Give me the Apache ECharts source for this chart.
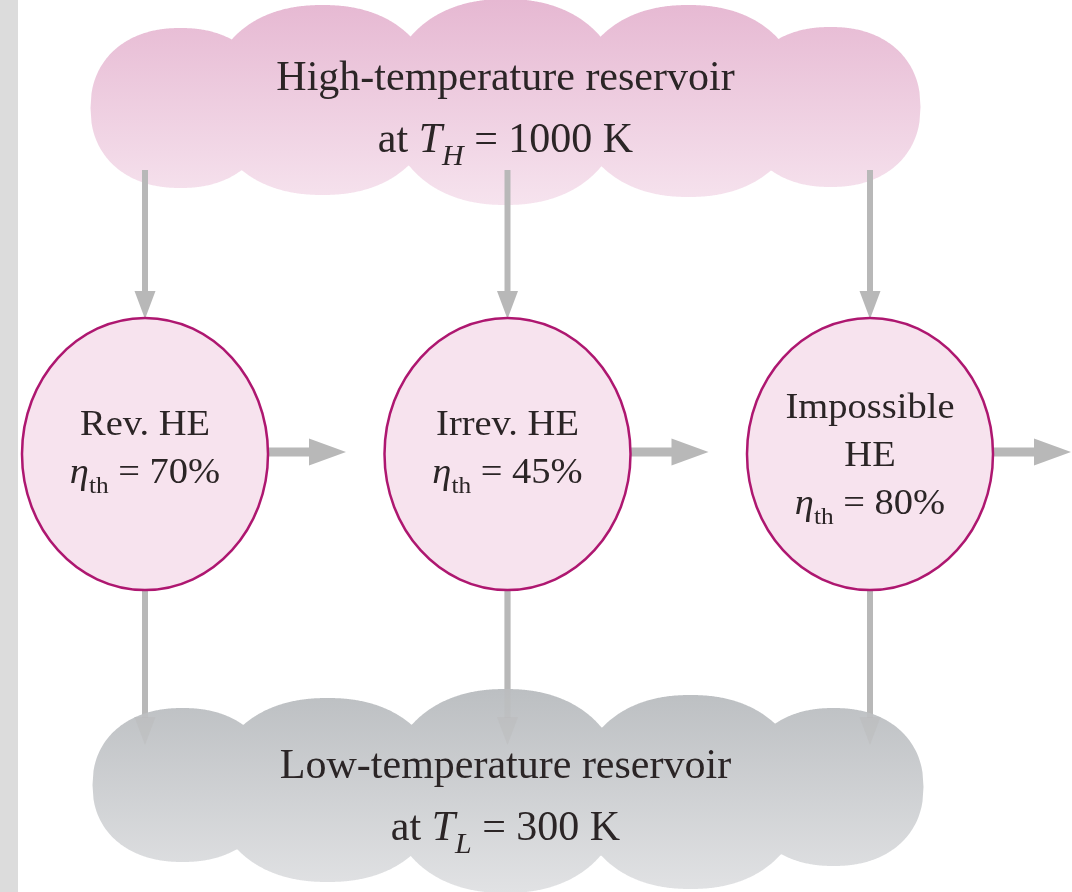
<!DOCTYPE html>
<html><head><meta charset="utf-8">
<script src="https://cdn.jsdelivr.net/npm/echarts@6/dist/echarts.min.js"></script>
<style>html,body{margin:0;padding:0;background:#fff}#c{width:1072px;height:892px}</style>
</head><body><div id="c"></div>
<script>
// ---- data ----
const engineNames = ['Rev. HE', 'Irrev. HE', 'Impossible\nHE'];
const efficiencies = [70, 45, 80];
const levels = [0, 1, 2]; // 0 = high reservoir, 1 = heat engines, 2 = low reservoir
const reservoirNames = ['High-temperature reservoir', 'Low-temperature reservoir'];
const reservoirTemps = [1000, 300];
const reservoirSubs = ['H', 'L'];

// ---- styling / geometry (pixel offsets relative to each reservoir anchor) ----
const FONT = '"Liberation Serif", "Times New Roman", serif';
const TEXT = '#2b2526';
const ARROW = '#b8b8b8';
const RX = 123, RY = 136;
const LOBE_POWER = 2.2;
const TOP_LOBES = [[-327,-10,90,80],[-185,-18,112,95],[-2,-16,117,103],[181,-17,112,96],[323,-11,90,80]];
const LOW_LOBES = [[-325,-5,90,77],[-180,0,112,92],[-2,1,117,102],[183,2,112,97],[326,-3,90,79]];

const chart = echarts.init(document.getElementById('c'), null, {renderer: 'canvas'});

function cloudPolygon(c, lobes, n) {
  let x0 = Infinity, x1 = -Infinity;
  lobes.forEach(l => { x0 = Math.min(x0, l[0] - l[2]); x1 = Math.max(x1, l[0] + l[2]); });
  const top = [], bot = [];
  for (let x = x0; x <= x1 + 1e-6; x += 1) {
    let t = Infinity, b = -Infinity;
    lobes.forEach(l => {
      const u = Math.abs(x - l[0]) / l[2];
      if (u <= 1) {
        const h = l[3] * Math.pow(1 - Math.pow(u, n), 1 / n);
        t = Math.min(t, l[1] - h); b = Math.max(b, l[1] + h);
      }
    });
    top.push([c[0] + x, c[1] + t]); bot.push([c[0] + x, c[1] + b]);
  }
  return top.concat(bot.reverse());
}
function cloud(c, lobes, g0, g1, c0, c1) {
  const fill = new echarts.graphic.LinearGradient(0, c[1] + g0, 0, c[1] + g1,
    [{offset: 0, color: c0}, {offset: 1, color: c1}], true);
  return [{type: 'polygon', shape: {points: cloudPolygon(c, lobes, LOBE_POWER)}, style: {fill}}];
}
function vArrow(x, y0, y1, opacity) {
  const st = {fill: ARROW, opacity: opacity == null ? 1 : opacity};
  return [
    {type: 'rect', shape: {x: x - 3, y: y0, width: 6, height: y1 - y0 - 27}, style: st},
    {type: 'polygon', shape: {points: [[x - 10.5, y1 - 28], [x + 10.5, y1 - 28], [x, y1]]}, style: st}
  ];
}
function hArrow(x0, x1, y) {
  return [
    {type: 'rect', shape: {x: x0, y: y - 4.5, width: x1 - x0 - 36, height: 9}, style: {fill: ARROW}},
    {type: 'polygon', shape: {points: [[x1 - 37, y - 13.5], [x1 - 37, y + 13.5], [x1, y]]}, style: {fill: ARROW}}
  ];
}

const reservoirRich = {
  n: {fontSize: 42, lineHeight: 62, fontFamily: FONT, fill: TEXT},
  it: {fontSize: 42, lineHeight: 62, fontFamily: FONT, fontStyle: 'italic', fill: TEXT},
  sub: {fontSize: 30, lineHeight: 36, fontFamily: FONT, fontStyle: 'italic', fill: TEXT, verticalAlign: 'bottom'}
};
const engineRich = {
  n: {fontSize: 35, lineHeight: 48, fontFamily: FONT, fill: TEXT},
  eta: {fontSize: 35, lineHeight: 48, fontFamily: FONT, fontStyle: 'italic', fill: TEXT},
  sub: {fontSize: 23, lineHeight: 14, fontFamily: FONT, fill: TEXT, verticalAlign: 'bottom'}
};

const flowData = engineNames.map((n, i) => [i, levels[1]]);

const option = {
  backgroundColor: '#ffffff',
  animation: false,
  grid: {left: 145, right: 202, top: 118, bottom: 102},
  xAxis: {type: 'category', data: engineNames, boundaryGap: false, show: false},
  yAxis: {type: 'value', min: 0, max: 2, inverse: true, show: false},
  graphic: [{type: 'rect', left: 0, top: 0, shape: {width: 18, height: 892}, style: {fill: '#dcdcdc'}, z: 0}],
  series: [
    {
      // heat rejected to the low reservoir (drawn beneath the cloud)
      type: 'custom', name: 'rejected', z: 1, clip: false,
      data: flowData,
      renderItem(params, api) {
        const i = api.value(0);
        const c = api.coord([i, api.value(1)]);
        const low = api.coord([i, levels[2]]);
        return {type: 'group', children: vArrow(c[0], c[1] + RY - 2, low[1] - 45)};
      }
    },
    {
      type: 'custom', name: 'reservoirs', z: 2, clip: false,
      data: reservoirNames.map((n, i) => [1, levels[i * 2], reservoirTemps[i]]),
      renderItem(params, api) {
        const i = params.dataIndex;
        const c = api.coord([api.value(0), api.value(1)]);
        const isTop = i === 0;
        const ch = isTop
          ? cloud(c, TOP_LOBES, -118, 87, '#e6b8d2', '#f6e3ee')
          : cloud(c, LOW_LOBES, -100, 102, '#bcbfc2', '#e1e2e4');
        const txt = '{n|' + reservoirNames[i] + '}\n{n|at }{it|T}{sub|' + reservoirSubs[i] + '}{n| = ' + api.value(2) + ' K}';
        ch.push({type: 'text', x: c[0] - 2, y: c[1] + (isTop ? -8 : 8), z2: 10,
          style: {text: txt, rich: reservoirRich, align: 'center', verticalAlign: 'middle', fontSize: 42, fontFamily: FONT, fill: TEXT}});
        return {type: 'group', children: ch};
      }
    },
    {
      type: 'custom', name: 'flows', z: 3, clip: false,
      data: flowData,
      renderItem(params, api) {
        const i = api.value(0);
        const c = api.coord([i, api.value(1)]);
        const top = api.coord([i, levels[0]]);
        const low = api.coord([i, levels[2]]);
        const ch = [].concat(
          vArrow(c[0], top[1] + 52, c[1] - RY + 1),
          vArrow(c[0], c[1] + RY - 2, low[1] - 45, 0.4),
          hArrow(c[0] + RX - 2, c[0] + RX + 78, c[1] - 2)
        );
        return {type: 'group', children: ch};
      }
    },
    {
      type: 'custom', name: 'engines', z: 4, clip: false,
      data: engineNames.map((n, i) => [i, levels[1], efficiencies[i]]),
      renderItem(params, api) {
        const i = params.dataIndex;
        const c = api.coord([api.value(0), api.value(1)]);
        const lines = engineNames[i].split('\n');
        const txt = lines.map(s => '{n|' + s + '}').join('\n') +
          '\n{eta|η}{sub|th}{n| = ' + api.value(2) + '%}';
        return {type: 'group', children: [
          {type: 'ellipse', shape: {cx: c[0], cy: c[1], rx: RX, ry: RY},
            style: {fill: '#f7e3ee', stroke: '#ae1770', lineWidth: 2.5}},
          {type: 'text', x: c[0], y: c[1] + (lines.length > 1 ? 3 : -4), scaleX: 1.1, z2: 10,
            style: {text: txt, rich: engineRich, align: 'center', verticalAlign: 'middle', fontSize: 35, fontFamily: FONT, fill: TEXT}}
        ]};
      }
    }
  ]
};
chart.setOption(option);
</script></body></html>
